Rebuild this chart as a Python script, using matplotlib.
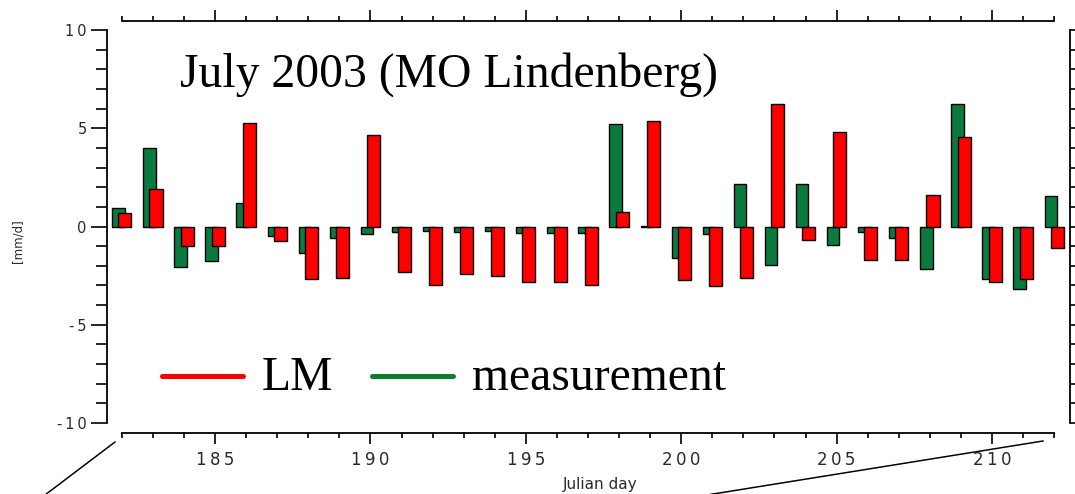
import numpy as np
import matplotlib
matplotlib.use("Agg")
import matplotlib.pyplot as plt
from matplotlib.ticker import MultipleLocator, FuncFormatter
from matplotlib.lines import Line2D

# Daily values, July 2003, MO Lindenberg [mm/d]
days = list(range(182, 213))
measurement = [0.93, 3.99, -2.04, -1.78, 1.22, -0.47, -1.34, -0.61, -0.37, -0.27,
               -0.24, -0.27, -0.24, -0.34, -0.34, -0.34, 5.24, 0.05, -1.58, -0.36,
               2.15, -1.95, 2.15, -0.92, -0.30, -0.61, -2.14, 6.25, -2.68, -3.16, 1.53]
lm = [0.68, 1.90, -0.98, -0.98, 5.26, -0.73, -2.68, -2.61, 4.66, -2.32,
      -3.00, -2.44, -2.51, -2.82, -2.82, -3.00, 0.75, 5.38, -2.73, -3.05,
      -2.61, 6.23, -0.71, 4.80, -1.70, -1.70, 1.61, 4.55, -2.80, -2.68, -1.09]

title = "July 2003 (MO Lindenberg)"
xlabel = "Julian day"
ylabel = "[mm/d]"
legend_labels = ["LM", "measurement"]

W, H = 1075, 494
GREEN = "#0a7a3e"
RED = "#ff0000"
LEG_GREEN = "#0a7f2e"
TXT = "#2a2a2a"

fig = plt.figure(figsize=(W / 100, H / 100), dpi=100)


def fx(px):
    return px / W


def fy(py):
    return 1 - py / H


def spaced(s):
    return "\u2009".join(s)


PX = 0.72  # points per pixel at 100 dpi

# main plotting area
ax = fig.add_axes([fx(107), fy(423), fx(1070) - fx(107), fy(30) - fy(423)])
ax.set_xlim(181.524, 212.508)
ax.set_ylim(-10, 10)
ax.patch.set_visible(False)
for side in ("top", "bottom", "right"):
    ax.spines[side].set_visible(False)
ax.spines["left"].set_linewidth(1.3)
ax.set_xticks([])
ax.yaxis.set_major_locator(MultipleLocator(5))
ax.yaxis.set_minor_locator(MultipleLocator(1))
ax.yaxis.set_major_formatter(FuncFormatter(lambda v, p: spaced(f"{v:.0f}")))
ax.tick_params(axis="y", which="major", length=16 * PX, width=1.2, pad=3,
               labelsize=10.5, labelcolor=TXT)
ax.tick_params(axis="y", which="minor", length=11 * PX, width=1.2)

x = np.array(days, dtype=float)
ax.bar(x - 0.11, measurement, width=0.40, color=GREEN, edgecolor="black",
       linewidth=1.0, zorder=2)
ax.bar(x + 0.10, lm, width=0.42, color=RED, edgecolor="black",
       linewidth=1.0, zorder=3)

# right-hand frame with unit ticks
axr = ax.twinx()
axr.set_ylim(-10, 10)
for side in ("top", "bottom", "left"):
    axr.spines[side].set_visible(False)
axr.spines["right"].set_linewidth(1.3)
axr.yaxis.set_major_locator(MultipleLocator(1))
axr.tick_params(axis="y", which="major", length=10 * PX, width=1.2,
                labelright=False)

# bottom day axis
axb = fig.add_axes([fx(121.8), fy(433), fx(1054.2) - fx(121.8), 0.002])
axb.patch.set_visible(False)
axb.set_xlim(182, 212)
for side in ("top", "left", "right"):
    axb.spines[side].set_visible(False)
axb.spines["bottom"].set_linewidth(1.3)
axb.set_yticks([])
axb.xaxis.set_major_locator(MultipleLocator(5))
axb.xaxis.set_minor_locator(MultipleLocator(1))
axb.xaxis.set_major_formatter(FuncFormatter(lambda v, p: spaced(f"{v:.0f}")))
axb.tick_params(axis="x", which="major", length=11 * PX, width=1.2, pad=5,
                labelsize=12, labelcolor=TXT)
axb.tick_params(axis="x", which="minor", length=5 * PX, width=1.2)

# top day axis
axt = fig.add_axes([fx(121.8), fy(20.7) - 0.002, fx(1054.2) - fx(121.8), 0.002])
axt.patch.set_visible(False)
axt.set_xlim(182, 212)
for side in ("bottom", "left", "right"):
    axt.spines[side].set_visible(False)
axt.spines["top"].set_linewidth(1.3)
axt.set_yticks([])
axt.xaxis.set_major_locator(MultipleLocator(5))
axt.xaxis.set_minor_locator(MultipleLocator(1))
axt.tick_params(axis="x", which="both", bottom=False, top=True,
                labelbottom=False, labeltop=False)
axt.tick_params(axis="x", which="major", length=11 * PX, width=1.2)
axt.tick_params(axis="x", which="minor", length=5 * PX, width=1.2)

# axis titles
fig.text(fx(600), fy(484), xlabel, ha="center", va="center", fontsize=11,
         color=TXT)
fig.text(fx(18), fy(241), ylabel, ha="center", va="center", rotation=90,
         fontsize=8.5, color=TXT)

# heading and legend
serif = ["Liberation Serif", "DejaVu Serif"]
fig.text(fx(180), fy(87), title, ha="left", va="baseline", fontsize=34.3,
         family=serif)
fig.add_artist(Line2D([fx(162), fx(243)], [fy(376), fy(376)], color=RED,
                      linewidth=5 * PX, solid_capstyle="round"))
fig.text(fx(262), fy(390), legend_labels[0], ha="left", va="baseline",
         fontsize=34.3, family=serif)
fig.add_artist(Line2D([fx(372), fx(453)], [fy(376), fy(376)], color=LEG_GREEN,
                      linewidth=5 * PX, solid_capstyle="round"))
fig.text(fx(472), fy(390), legend_labels[1], ha="left", va="baseline",
         fontsize=34.3, family=serif)

# zoom lines from the day axis ends
fig.add_artist(Line2D([fx(115), fx(45)], [fy(442), fy(495)], color="black",
                      linewidth=1.5 * PX))
fig.add_artist(Line2D([fx(1043), fx(710)], [fy(441), fy(494.5)], color="black",
                      linewidth=1.5 * PX))

fig.savefig("out.png", dpi=100)
